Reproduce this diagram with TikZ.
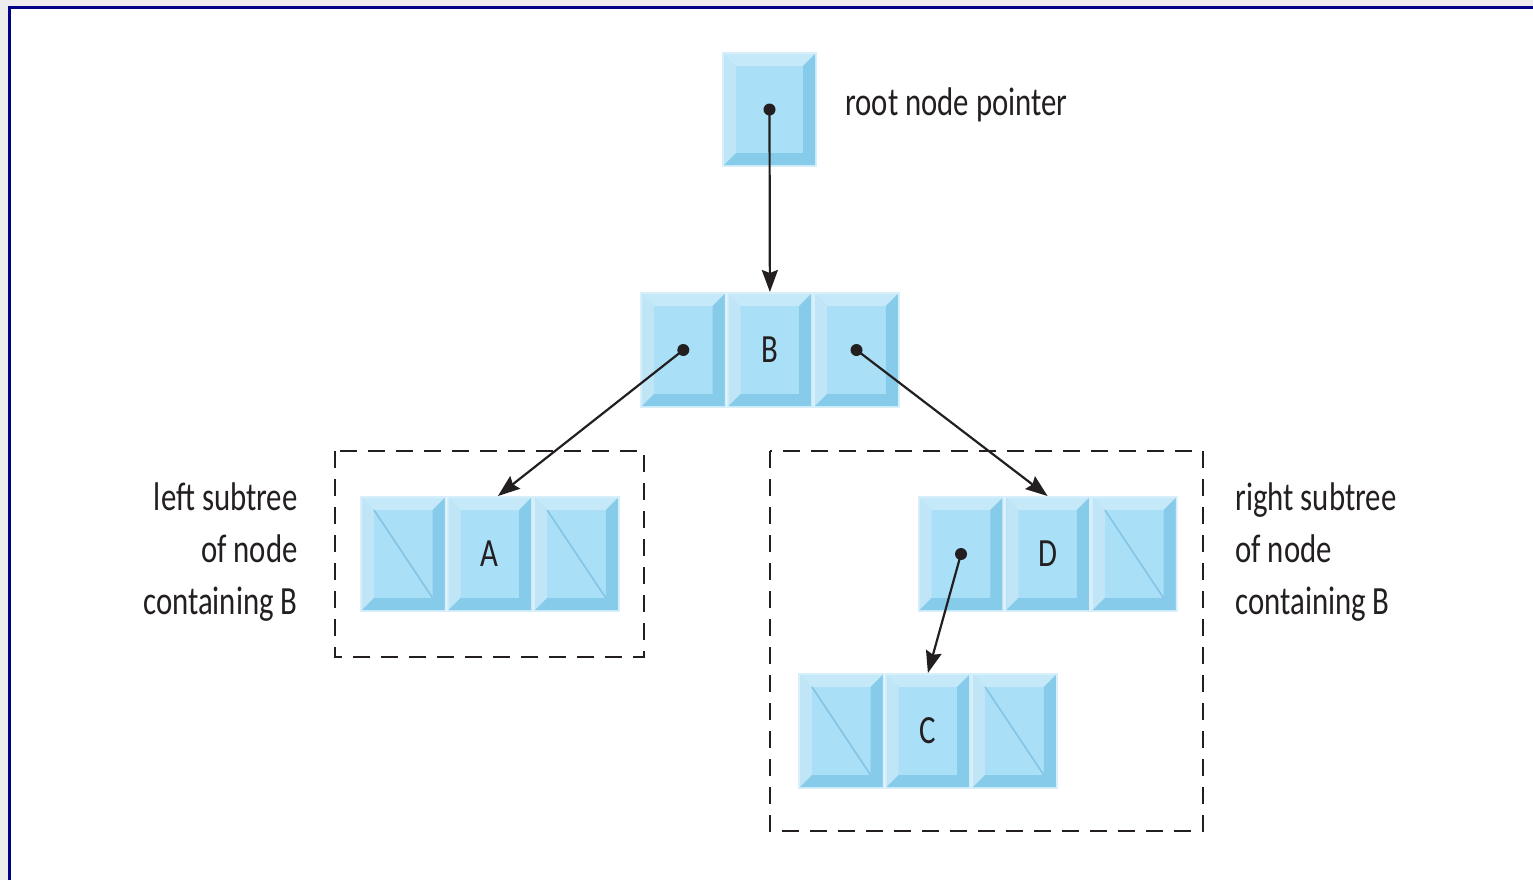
\documentclass[tikz,border=0pt]{standalone}
\usepackage{fontspec}
\newfontfamily\treefont[FakeStretch=0.77]{Carlito}
\usetikzlibrary{positioning,arrows.meta}

\definecolor{cellface}{HTML}{AADFF8}
\definecolor{celltop}{HTML}{C6E9F9}
\definecolor{cellleft}{HTML}{BFE5F7}
\definecolor{cellshade}{HTML}{86CBE9}
\definecolor{cellrim}{HTML}{D6EFFB}
\definecolor{cellslash}{HTML}{84C5E5}
\definecolor{framenavy}{HTML}{000088}
\definecolor{inkgray}{HTML}{231F20}

% bevelled face of one list cell
\newcommand\bevelcell{%
  \fill[cellrim] (path picture bounding box.north west) rectangle (path picture bounding box.south east);
  \fill[cellface] ([shift={(1pt,-1pt)}]path picture bounding box.north west) rectangle ([shift={(-1pt,1pt)}]path picture bounding box.south east);
  \fill[celltop] ([shift={(1pt,-1pt)}]path picture bounding box.north west) -- ([shift={(-1pt,-1pt)}]path picture bounding box.north east)
    -- ([shift={(-7pt,-7pt)}]path picture bounding box.north east) -- ([shift={(7pt,-7pt)}]path picture bounding box.north west) -- cycle;
  \fill[cellleft] ([shift={(1pt,-1pt)}]path picture bounding box.north west) -- ([shift={(7pt,-7pt)}]path picture bounding box.north west)
    -- ([shift={(7pt,7pt)}]path picture bounding box.south west) -- ([shift={(1pt,1pt)}]path picture bounding box.south west) -- cycle;
  \fill[cellshade] ([shift={(1pt,1pt)}]path picture bounding box.south west) -- ([shift={(7pt,7pt)}]path picture bounding box.south west)
    -- ([shift={(-7pt,7pt)}]path picture bounding box.south east) -- ([shift={(-1pt,1pt)}]path picture bounding box.south east) -- cycle;
  \fill[cellshade] ([shift={(-1pt,-1pt)}]path picture bounding box.north east) -- ([shift={(-1pt,1pt)}]path picture bounding box.south east)
    -- ([shift={(-7pt,7pt)}]path picture bounding box.south east) -- ([shift={(-7pt,-7pt)}]path picture bounding box.north east) -- cycle;
}

\begin{document}
\begin{tikzpicture}[x=0.5pt, y=-0.5pt, node distance=0pt,
    font=\treefont\fontsize{20}{26}\selectfont, text=inkgray,
    cell/.style={minimum width=43.3pt, minimum height=58pt, inner sep=0pt, outer sep=0pt,
      path picture={\bevelcell}},
    nullcell/.style={cell, path picture={\bevelcell
      \draw[cellslash, line width=0.8pt] ([shift={(7pt,-7pt)}]path picture bounding box.north west)
        -- ([shift={(-7pt,7pt)}]path picture bounding box.south east);}},
    link/.style={draw=inkgray, line width=1.1pt, -{Stealth[length=11pt, width=8pt, inset=1.5pt]}},
    subtree/.style={draw=inkgray, line width=1pt, dash pattern=on 8.5pt off 5.5pt},
    label/.style={inner sep=0pt, align=#1}]
  \useasboundingbox (0,0) rectangle (1533,880);

  % page frame
  \fill[black!7] (0,0) rectangle (1533,880);
  \fill[white] (9,7) rectangle (1533,880);
  \draw[framenavy, line width=1.5pt] (9.5,880) -- (9.5,7) -- (1533,7);

  % subtrees of B
  \draw[subtree] (335,451) rectangle (644,657);
  \draw[subtree] (770,451) rectangle (1203,831);

  % root pointer
  \node[cell, minimum width=47.5pt, minimum height=57.5pt] (root) at (769.5,109.5) {};
  \node[label=left, anchor=west] (rootlbl) at (845,105) {root node pointer};

  % node B
  \node[cell] (b1) at (683.3,350) {};
  \node[cell, right=of b1] (b2) {B};
  \node[cell, right=of b2] (b3) {};

  % node A
  \node[nullcell] (a1) at (403.3,554) {};
  \node[cell, right=of a1] (a2) {A};
  \node[nullcell, right=of a2] (a3) {};

  % node D
  \node[cell] (d1) at (961,554) {};
  \node[cell, right=of d1] (d2) {D};
  \node[nullcell, right=of d2] (d3) {};

  % node C
  \node[nullcell] (c1) at (841.3,731) {};
  \node[cell, right=of c1] (c2) {C};
  \node[nullcell, right=of c2] (c3) {};

  \node[label=right, anchor=east] (leftlbl) at (298,552) {left subtree\\of node\\containing B};
  \node[label=left, anchor=west] (rightlbl) at (1235,552) {right subtree\\of node\\containing B};

  % pointers
  \draw[link] (root.center) -- (b2.north);
  \draw[link] (b1.center) -- ([xshift=4pt]a2.north);
  \draw[link] (b3.center) -- (d2.north);
  \draw[link] (d1.center) -- (c2.north);
  \foreach \n in {root,b1,b3,d1}
    \fill[inkgray] (\n.center) circle (3pt);
\end{tikzpicture}
\end{document}
